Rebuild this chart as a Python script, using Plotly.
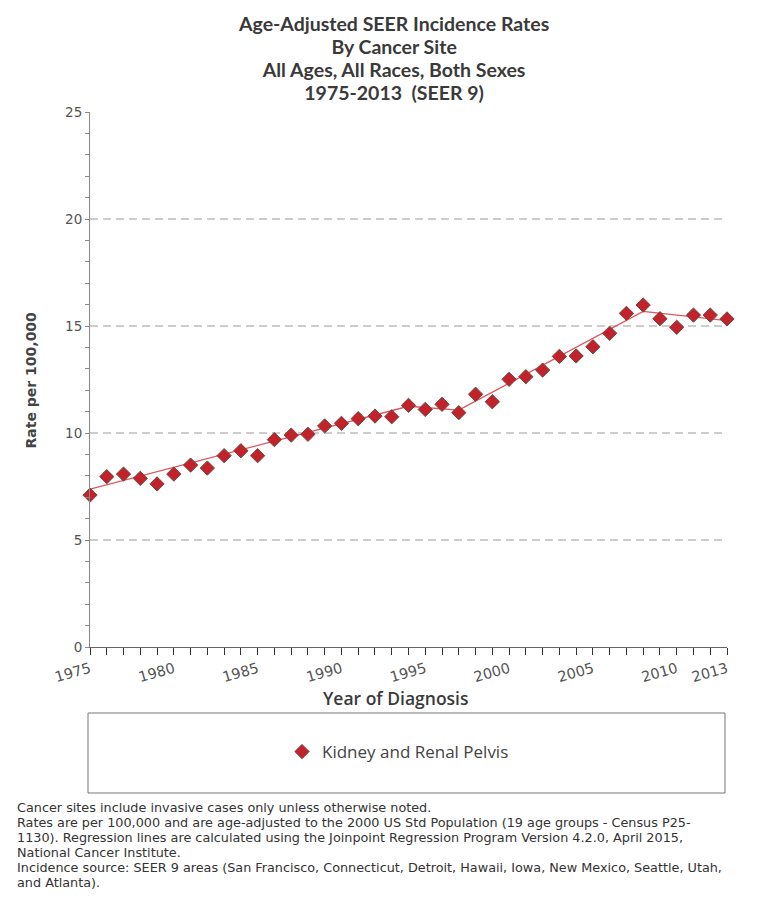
import plotly.graph_objects as go

# Annual age-adjusted incidence rates, kidney and renal pelvis (SEER 9)
YEARS = list(range(1975, 2014))
RATES = [
    7.10, 7.96, 8.08, 7.88, 7.62, 8.08, 8.50, 8.36, 8.94, 9.17,
    8.94, 9.69, 9.90, 9.94, 10.33, 10.45, 10.67, 10.79, 10.76, 11.29,
    11.10, 11.34, 10.95, 11.81, 11.46, 12.51, 12.63, 12.94, 13.58, 13.60,
    14.03, 14.66, 15.59, 15.98, 15.34, 14.94, 15.51, 15.51, 15.33,
]

# Joinpoint regression: segment end points
TREND_YEARS = [1975, 1994, 1997, 2008, 2013]
TREND_RATES = [7.38, 11.25, 11.07, 15.68, 15.25]

X_TICKS = [1975, 1980, 1985, 1990, 1995, 2000, 2005, 2010, 2013]
Y_TICKS = [0, 5, 10, 15, 20, 25]
GRID_LEVELS = [5, 10, 15, 20]

SERIES_NAME = "Kidney and Renal Pelvis"
TITLE_LINES = [
    "Age-Adjusted SEER Incidence Rates",
    "By Cancer Site",
    "All Ages, All Races, Both Sexes",
    "1975-2013  (SEER 9)",
]
X_TITLE = "Year of Diagnosis"
Y_TITLE = "Rate per 100,000"
FOOTNOTE_LINES = [
    "Cancer sites include invasive cases only unless otherwise noted.",
    "Rates are per 100,000 and are age-adjusted to the 2000 US Std Population (19 age groups - Census P25-",
    "1130). Regression lines are calculated using the Joinpoint Regression Program Version 4.2.0, April 2015,",
    "National Cancer Institute.",
    "Incidence source: SEER 9 areas (San Francisco, Connecticut, Detroit, Hawaii, Iowa, New Mexico, Seattle, Utah,",
    "and Atlanta).",
]

TEXT_FONT = "Open Sans"
TITLE_FONT = "Lato"
TICK_FONT = "DejaVu Sans"

# page geometry (pixels)
W, H = 768, 909
L, R, T, B = 90, 41, 112, 262
PW, PH = W - L - R, H - T - B


def px(x):
    """Horizontal pixel -> paper coordinate."""
    return (x - L) / PW


def py(y):
    """Vertical pixel (from top) -> paper coordinate."""
    return (H - B - y) / PH


def stacked(lines, glyph_px):
    """Multi-line text whose glyph size is set per line (pitch comes from the base font)."""
    return "<br>".join(f'<span style="font-size:{glyph_px}px">{s}</span>' for s in lines)


fig = go.Figure()

# regression line
fig.add_trace(go.Scatter(
    x=TREND_YEARS, y=TREND_RATES, mode="lines",
    line=dict(color="#e0555a", width=1.3),
    showlegend=False, hoverinfo="skip",
))

# observed rates
fig.add_trace(go.Scatter(
    x=YEARS, y=RATES, mode="markers", name=SERIES_NAME,
    marker=dict(symbol="diamond", size=11, color="#c3222c",
                line=dict(color="#6e4a40", width=1)),
    cliponaxis=False,
))

# dashed horizontal grid
for level in GRID_LEVELS:
    fig.add_hline(y=level, line=dict(color="#9a9a9a", width=1, dash="8px,5px"), layer="below")

fig.update_layout(
    width=W, height=H, autosize=False,
    margin=dict(l=L, r=R, t=T, b=B),
    paper_bgcolor="white", plot_bgcolor="white",
    xaxis=dict(
        range=[1975, 2013], tickvals=X_TICKS, tickangle=-16,
        ticks="outside", ticklen=7, tickcolor="#333", tickwidth=1,
        minor=dict(dtick=1, ticks="outside", ticklen=7, tickcolor="#333", tickwidth=1),
        showline=True, linecolor="#666", linewidth=1,
        showgrid=False, zeroline=False,
        tickfont=dict(family=TICK_FONT, size=14.5, color="#555"),
    ),
    yaxis=dict(
        range=[0, 25], tickvals=Y_TICKS,
        ticks="outside", ticklen=4, tickcolor="#888",
        minor=dict(dtick=1, ticks="outside", ticklen=4, tickcolor="#888"),
        showline=True, linecolor="#888", linewidth=1,
        showgrid=False, zeroline=False,
        tickfont=dict(family=TICK_FONT, size=13.5, color="#555"),
    ),
    legend=dict(
        orientation="h", x=px(282), xanchor="left", y=py(752), yanchor="middle",
        bgcolor="rgba(0,0,0,0)", font=dict(family=TEXT_FONT, size=17, color="#444"),
    ),
    hovermode=False,
)

# chart title (four centred rows)
fig.add_annotation(text=stacked(TITLE_LINES, 19.5), xref="paper", yref="paper",
                   x=px(393), y=py(58.5), showarrow=False, xanchor="center", yanchor="middle",
                   align="center",
                   font=dict(family=TITLE_FONT, size=17.7, color="#3a3a3a", weight="bold"))

# legend frame
fig.add_shape(type="rect", xref="paper", yref="paper",
              x0=px(88), x1=px(725), y0=py(793), y1=py(713),
              line=dict(color="#777", width=1))

fig.add_annotation(text=Y_TITLE, xref="paper", yref="paper", x=px(30), y=0.5,
                   textangle=-90, showarrow=False, xanchor="center", yanchor="middle",
                   font=dict(family=TICK_FONT, size=14, color="#444", weight="bold"))
fig.add_annotation(text=X_TITLE, xref="paper", yref="paper", x=px(396), y=py(698),
                   showarrow=False, xanchor="center", yanchor="middle",
                   font=dict(family=TEXT_FONT, size=17.5, color="#3a3a3a", weight=600))

# footnotes
fig.add_annotation(text=stacked(FOOTNOTE_LINES, 12.8), xref="paper", yref="paper",
                   x=px(15), y=py(844.5), xanchor="left", yanchor="middle", align="left",
                   showarrow=False,
                   font=dict(family=TICK_FONT, size=11.55, color="#333"))

fig.write_html("out.html")
